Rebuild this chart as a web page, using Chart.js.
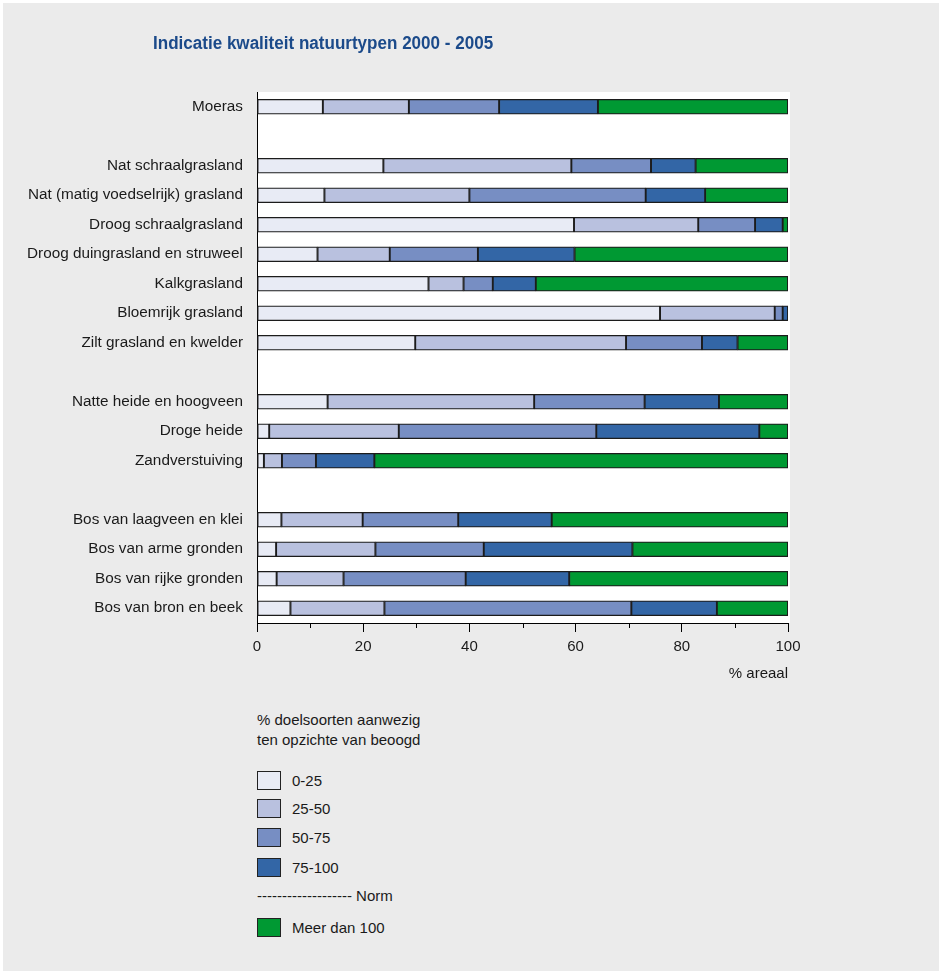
<!DOCTYPE html>
<html>
<head>
<meta charset="utf-8">
<script src="https://cdn.jsdelivr.net/npm/chart.js@4.4.1/dist/chart.umd.min.js"></script>
<style>
  html, body { margin: 0; padding: 0; background: #fff; width: 939px; height: 971px; overflow: hidden; }
  #panel { position: absolute; left: 3px; top: 3px; width: 936px; height: 968px; background: #ebebeb; }
  #chart { position: absolute; left: 0; top: 0; }
  .txt { position: absolute; font-family: 'Liberation Sans', Arial, sans-serif; font-size: 15px; color: #1a1a1a; white-space: nowrap; line-height: 18px; }
  #title { left: 153px; top: 34px; font-weight: bold; font-size: 18px; color: #1b4a8a; transform-origin: left center; }
  .box { position: absolute; left: 257px; width: 22px; height: 17px; border: 1.5px solid #222; }
</style>
</head>
<body>
<div id="panel"></div>
<canvas id="chart" width="939" height="700"></canvas>
<div id="title" class="txt">Indicatie kwaliteit natuurtypen 2000 - 2005</div>
<div id="legend"></div>
<script>
// categorieen (lege labels = witregels tussen de groepen)
const categories = [
  'Moeras', '',
  'Nat schraalgrasland', 'Nat (matig voedselrijk) grasland', 'Droog schraalgrasland',
  'Droog duingrasland en struweel', 'Kalkgrasland', 'Bloemrijk grasland', 'Zilt grasland en kwelder', '',
  'Natte heide en hoogveen', 'Droge heide', 'Zandverstuiving', '',
  'Bos van laagveen en klei', 'Bos van arme gronden', 'Bos van rijke gronden', 'Bos van bron en beek'
];

// % areaal per klasse (% doelsoorten aanwezig)
const share0to25   = [12.4, null, 23.8, 12.7, 59.7, 11.4, 32.3, 75.9, 29.8, null, 13.3,  2.3,  1.3, null,  4.6,  3.6,  3.7,  6.3];
const share25to50  = [16.2, null, 35.4, 27.3, 23.4, 13.6,  6.6, 21.6, 39.7, null, 38.9, 24.4,  3.4, null, 15.3, 18.7, 12.6, 17.7];
const share50to75  = [17.0, null, 15.0, 33.2, 10.7, 16.6,  5.5,  1.5, 14.3, null, 20.8, 37.2,  6.4, null, 18.0, 20.4, 23.0, 46.5];
const share75to100 = [18.6, null,  8.4, 11.2,  5.2, 18.2,  8.1,  1.0,  6.7, null, 14.0, 30.7, 11.0, null, 17.6, 28.0, 19.5, 16.1];
const shareOver100 = [35.8, null, 17.4, 15.6,  1.0, 40.2, 47.5,  0.0,  9.5, null, 13.0,  5.4, 77.9, null, 44.5, 29.3, 41.2, 13.4];

const seriesNames = ['0-25', '25-50', '50-75', '75-100', 'Meer dan 100'];
const seriesColors = ['#e8ebf5', '#b9c1df', '#778ec3', '#3366a6', '#009933'];
const xMajorTicks = [0, 20, 40, 60, 80, 100];

const font = "'Liberation Sans', Arial, sans-serif";
const textColor = '#1a1a1a';

// witte plotachtergrond
const plotBackground = {
  id: 'plotBackground',
  beforeDraw(chart) {
    const { ctx, chartArea: a } = chart;
    ctx.save();
    ctx.fillStyle = '#ffffff';
    ctx.fillRect(a.left, a.top, a.right - a.left + 2, a.bottom - a.top);
    ctx.restore();
  }
};

// kortere tussenstreepjes op de x-as
const minorTicks = {
  id: 'minorTicks',
  afterDraw(chart) {
    const x = chart.scales.x;
    const ctx = chart.ctx;
    ctx.save();
    ctx.strokeStyle = '#000';
    ctx.lineWidth = 1;
    x.ticks.forEach(t => {
      if (xMajorTicks.includes(t.value)) return;
      const px = Math.round(x.getPixelForValue(t.value)) + 0.5;
      ctx.beginPath();
      ctx.moveTo(px, x.top);
      ctx.lineTo(px, x.top + 5);
      ctx.stroke();
    });
    ctx.restore();
  }
};

const allSeries = [share0to25, share25to50, share50to75, share75to100, shareOver100];

new Chart(document.getElementById('chart'), {
  type: 'bar',
  data: {
    labels: categories,
    datasets: allSeries.map((d, i) => ({
      label: seriesNames[i],
      data: d,
      backgroundColor: seriesColors[i],
      borderColor: '#1c1c1c',
      borderWidth: 1.3,
      borderSkipped: false,
      barThickness: 15
    }))
  },
  options: {
    indexAxis: 'y',
    responsive: false,
    animation: false,
    layout: { padding: { top: 92, right: 151, left: 0, bottom: 0 } },
    plugins: { legend: { display: false }, tooltip: { enabled: false } },
    scales: {
      x: {
        type: 'linear',
        stacked: true,
        min: 0,
        max: 100,
        afterFit(s) { s.height = 77; },
        border: { display: true, color: '#000', width: 1 },
        grid: {
          drawOnChartArea: false,
          tickLength: 9,
          tickWidth: 1,
          tickColor: c => (c.tick && xMajorTicks.includes(c.tick.value)) ? '#000' : 'rgba(0,0,0,0)'
        },
        ticks: {
          stepSize: 10,
          autoSkip: false,
          maxRotation: 0,
          padding: 6,
          color: textColor,
          font: { size: 15, family: font },
          callback: v => xMajorTicks.includes(v) ? String(v) : ''
        },
        title: {
          display: true,
          text: '% areaal',
          align: 'end',
          color: textColor,
          font: { size: 15, family: font },
          padding: { top: 0, bottom: 17 }
        }
      },
      y: {
        type: 'category',
        stacked: true,
        afterFit(s) { s.width = 257; },
        border: { display: true, color: '#000', width: 1 },
        grid: { display: false, drawTicks: false },
        ticks: {
          padding: 14,
          autoSkip: false,
          color: textColor,
          font: { size: 15.3, family: font }
        }
      }
    }
  },
  plugins: [plotBackground, minorTicks]
});

// titel op breedte
const title = document.getElementById('title');
title.style.transform = 'scaleX(' + (340 / title.offsetWidth) + ')';

// legenda
const legend = document.getElementById('legend');
function addText(text, left, centerY) {
  const el = document.createElement('div');
  el.className = 'txt';
  el.textContent = text;
  el.style.left = left + 'px';
  el.style.top = (centerY - 9) + 'px';
  legend.appendChild(el);
}
addText('% doelsoorten aanwezig', 257, 720);
addText('ten opzichte van beoogd', 257, 740);
const legendRows = [781, 809, 838, 868, 928];
seriesNames.forEach((name, i) => {
  const box = document.createElement('div');
  box.className = 'box';
  box.style.top = (legendRows[i] - 10) + 'px';
  box.style.background = seriesColors[i];
  legend.appendChild(box);
  addText(name, 292, legendRows[i]);
});
addText('------------------- Norm', 257, 896);
</script>
</body>
</html>
